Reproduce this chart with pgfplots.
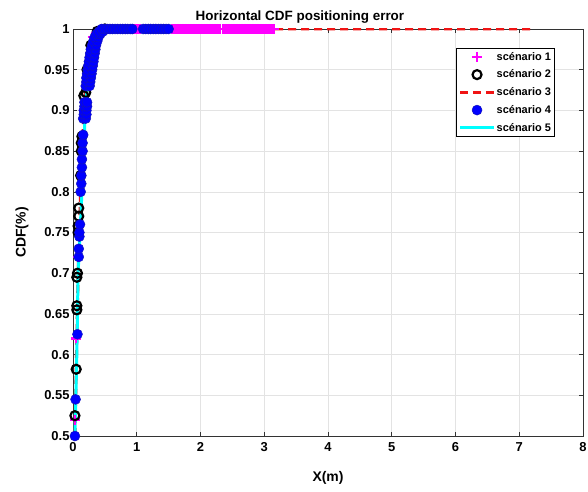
\documentclass[border=0pt]{standalone}
\usepackage{fontspec}
\setmainfont{Liberation Sans}
\usepackage{pgfplots}
\pgfplotsset{compat=1.18}
\definecolor{mymag}{RGB}{255,0,255}
\definecolor{mycyan}{RGB}{0,255,255}
\definecolor{myblue}{RGB}{0,0,255}
\definecolor{myblueedge}{RGB}{20,20,190}
\definecolor{myred}{RGB}{240,20,20}
\begin{document}
\begin{tikzpicture}
\begin{axis}[
  scale only axis,
  width=510bp, height=407bp,
  xmin=0, xmax=8, ymin=0.5, ymax=1,
  xtick={0,1,2,3,4,5,6,7,8},
  xticklabels={0,1,2,3,4,5,6,7,8},
  ytick={0.5,0.55,0.6,0.65,0.7,0.75,0.8,0.85,0.9,0.95,1},
  yticklabels={0.5,0.55,0.6,0.65,0.7,0.75,0.8,0.85,0.9,0.95,1},
  grid=major,
  grid style={gray!22, line width=0.6bp},
  axis line style={black!80, line width=0.9bp},
  tick style={black!80, line width=0.6bp},
  tick align=inside,
  major tick length=4bp,
  tick label style={font=\fontsize{13}{14}\selectfont\bfseries},
  xticklabel style={yshift=-3bp},
  xlabel={X(m)},
  ylabel={CDF(\%)},
  xlabel style={at={(axis description cs:0.5,0)}, anchor=base, yshift=-45bp, font=\fontsize{14}{15}\selectfont\bfseries},
  ylabel style={at={(axis description cs:-0.1,0.5)}, anchor=center, font=\fontsize{14}{15}\selectfont\bfseries},
  title={Horizontal CDF positioning error},
  title style={at={(axis description cs:0.445,1)}, anchor=base, yshift=3bp, font=\fontsize{13.5}{14}\selectfont\bfseries},
  legend style={at={(0.945,0.953)}, anchor=north east, draw=black, line width=0.6bp,
    font=\fontsize{11}{12}\selectfont\bfseries, row sep=5.8bp, inner sep=2.5bp,
    nodes={inner sep=1.2bp}},
  legend cell align=left,
  legend image code/.code={\draw[mark repeat=2,mark phase=2,#1] plot coordinates {(0bp,0bp) (17bp,0bp) (34bp,0bp)};},
  clip=true,
]
% scenario 1
\addplot[only marks, mark=+, mark size=5bp, color=mymag, line width=2.6bp] coordinates {
(0.03,0.52)(0.05,0.62)(0.08,0.72)(0.12,0.82)(0.17,0.9)(0.24,0.95)(0.31,0.99)
(0.45,1)(0.6,1)(0.8,1)(0.96,1)(1.0,1)(1.04,1)(1.3,1)
(1.55,1)(1.575,1)(1.6,1)(1.625,1)(1.65,1)(1.675,1)(1.7,1)(1.725,1)(1.75,1)(1.775,1)
(1.8,1)(1.825,1)(1.85,1)(1.875,1)(1.9,1)(1.925,1)(1.95,1)(1.975,1)(2.0,1)
(2.05,1)(2.075,1)(2.1,1)(2.125,1)(2.15,1)(2.175,1)(2.2,1)(2.225,1)(2.25,1)(2.3,1)
(2.35,1)(2.375,1)(2.4,1)(2.425,1)(2.45,1)(2.475,1)(2.5,1)(2.525,1)
(2.55,1)(2.575,1)(2.6,1)(2.625,1)(2.65,1)(2.675,1)(2.7,1)(2.725,1)(2.75,1)(2.775,1)
(2.8,1)(2.825,1)(2.85,1)(2.875,1)(2.9,1)(2.925,1)(2.95,1)(2.975,1)(3.0,1)
(3.025,1)(3.05,1)(3.075,1)(3.1,1)(3.125,1)(3.15,1)
};
\addlegendentry{scénario 1}
% scenario 2
\addplot[only marks, mark=o, mark size=4.5bp, color=black, line width=2.2bp] coordinates {
(0.03,0.525)(0.05,0.582)(0.06,0.655)(0.06,0.66)(0.06,0.695)(0.07,0.70)
(0.08,0.75)(0.08,0.758)(0.09,0.77)(0.09,0.78)(0.12,0.82)(0.13,0.85)
(0.13,0.86)(0.14,0.868)(0.17,0.918)(0.2,0.922)(0.22,0.95)(0.28,0.98)(0.38,0.997)(0.5,1)
};
\addlegendentry{scénario 2}
% scenario 3
\addplot[color=myred, line width=3bp, dash pattern=on 8bp off 5bp] coordinates {
(0.03,0.5)(0.08,0.7)(0.14,0.85)(0.19,0.92)(0.24,0.96)(0.31,0.99)(0.45,1)(7.2,1)
};
\addlegendentry{scénario 3}
% scenario 4
\addplot[only marks, mark=*, mark size=5bp, color=myblueedge, mark options={fill=myblue, draw=myblueedge, line width=0.5bp}] coordinates {
(0.03,0.50)(0.04,0.545)(0.07,0.625)(0.09,0.72)(0.09,0.73)(0.1,0.745)(0.1,0.75)
(0.11,0.76)(0.12,0.80)(0.13,0.81)(0.13,0.82)(0.14,0.83)(0.14,0.84)(0.15,0.85)
(0.15,0.86)(0.16,0.87)
(0.16,0.89)(0.2,0.89)(0.17,0.895)(0.21,0.895)(0.17,0.90)(0.21,0.90)(0.18,0.905)(0.22,0.905)
(0.18,0.91)(0.22,0.91)
(0.2,0.93)(0.26,0.93)(0.21,0.935)(0.27,0.935)(0.21,0.94)(0.28,0.94)(0.22,0.945)(0.29,0.945)
(0.23,0.95)(0.3,0.95)(0.24,0.955)(0.31,0.955)(0.25,0.96)(0.32,0.96)(0.26,0.965)(0.33,0.965)
(0.27,0.97)(0.34,0.97)(0.28,0.975)(0.35,0.975)(0.3,0.98)(0.36,0.98)(0.32,0.985)(0.38,0.985)
(0.34,0.99)(0.4,0.99)(0.37,0.994)(0.43,0.994)(0.41,0.997)(0.47,0.997)
(0.45,1)(0.5,1)(0.54,1)(0.58,1)(0.62,1)(0.66,1)(0.7,1)
(0.74,1)(0.78,1)(0.82,1)(0.86,1)(0.9,1)(0.93,1)
(1.1,1)(1.14,1)(1.18,1)(1.22,1)(1.26,1)(1.3,1)(1.34,1)(1.38,1)(1.42,1)(1.46,1)(1.5,1)
};
\addlegendentry{scénario 4}
% scenario 5
\addplot[color=mycyan, line width=3bp] coordinates {
(0.03,0.5)(0.06,0.6)(0.08,0.7)(0.11,0.75)(0.14,0.8)(0.17,0.85)(0.19,0.9)(0.24,0.95)(0.3,0.98)(0.38,0.995)(0.45,1)(0.6,1)
};
\addlegendentry{scénario 5}
\end{axis}
\pgfresetboundingbox
\path[use as bounding box] ([shift={(-73bp,-55bp)}]current axis.south west) rectangle ([shift={(5bp,29bp)}]current axis.north east);
\end{tikzpicture}
\end{document}
